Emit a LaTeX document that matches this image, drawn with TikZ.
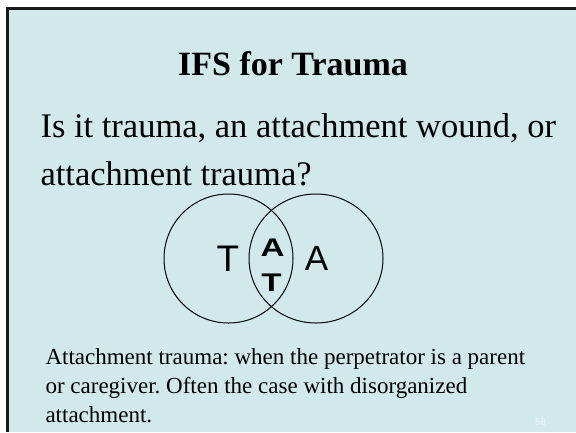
\documentclass[tikz,border=0pt]{standalone}
\usepackage{fontspec}
\setmainfont{Liberation Serif}
\newfontfamily\arialfont{Liberation Sans}
\usetikzlibrary{calc}
\frenchspacing

\definecolor{slidebg}{RGB}{210,233,236}
\definecolor{pagenum}{RGB}{236,246,248}

\begin{document}
\begin{tikzpicture}[x=1pt,y=-1pt]
      \useasboundingbox (0,0) rectangle (576,432);

      % 1. slide with dark edge at top and left
      \fill[white] (0,0) rectangle (576,432);
      \fill[black!90] (6,7) rectangle (576,432);
      \fill[slidebg] (8.5,9.5) rectangle (576,432);

      % 2. title and question
      \node[anchor=base, font=\fontsize{34}{40}\selectfont\bfseries] (title) at (293,75) {IFS for Trauma};
      \node[anchor=base west, font=\fontsize{34.5}{40}\selectfont] (q1) at (37,137) {Is it trauma, an attachment wound, or};
      \node[anchor=base west, font=\fontsize{34.5}{40}\selectfont] (q2) at (37,185) {attachment trauma?};

      % 3. the two circles
      \coordinate (O_T) at (228.5,258.5);
      \coordinate (O_A) at (316,258.5);
      \draw[black, line width=1pt] (O_T) circle [radius=64.5pt];
      \draw[black, line width=1pt] (O_A) ellipse [x radius=67pt, y radius=64.5pt];

      % 4. letters in the circles
      \node[anchor=base, font=\arialfont\fontsize{37}{40}\selectfont] (T) at (228,271) {T};
      \node[anchor=base, font=\arialfont\fontsize{35}{40}\selectfont] (A) at (316.5,270.7) {A};
      \node[anchor=base, xscale=1.3, font=\arialfont\fontsize{25.5}{30}\selectfont\bfseries] (AT_A) at (272.5,256) {A};
      \node[anchor=base, xscale=1.3, font=\arialfont\fontsize{25.5}{30}\selectfont\bfseries] (AT_T) at (271.5,291.7) {T};

      % 5. note at the bottom
      \node[anchor=base west, font=\fontsize{23}{29}\selectfont] (n1) at (42,364) {Attachment trauma: when the perpetrator is a parent};
      \node[anchor=base west, font=\fontsize{23}{29}\selectfont] (n2) at (42,393) {or caregiver. Often the case with disorganized};
      \node[anchor=base west, font=\fontsize{23}{29}\selectfont] (n3) at (42,422) {attachment.};

      % 6. page number
      \node[anchor=base, pagenum, font=\arialfont\fontsize{9.5}{10}\selectfont] (page) at (540.5,425.7) {58};
\end{tikzpicture}
\end{document}
